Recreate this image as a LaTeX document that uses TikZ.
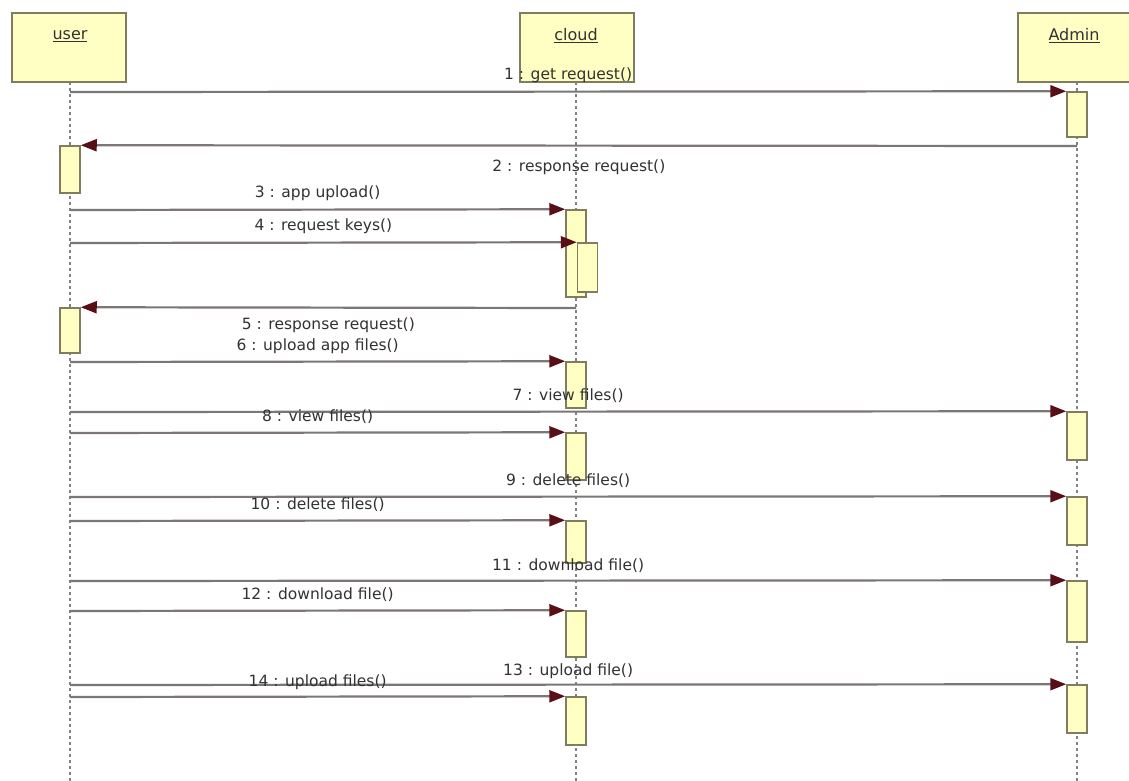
\documentclass[tikz,border=0pt]{standalone}
\usepackage{fontspec}
\setmainfont{DejaVu Sans}
\usetikzlibrary{arrows.meta}
\definecolor{msgc}{RGB}{125,118,118}
\definecolor{tipc}{RGB}{88,16,22}
\definecolor{actf}{RGB}{255,255,196}
\definecolor{actd}{RGB}{128,124,96}
\definecolor{lifec}{RGB}{130,130,130}
\definecolor{txtc}{RGB}{50,50,50}
\begin{document}
\begin{tikzpicture}[x=1pt,y=-1pt,
  head/.style={draw=actd, fill=actf, line width=2pt, minimum height=69pt, inner sep=0pt},
  act/.style={draw=actd, fill=actf, line width=1.5pt, minimum width=20pt, inner sep=0pt},
  life/.style={draw=lifec, line width=1.8pt, dash pattern=on 3pt off 3pt},
  msg/.style={draw=msgc, line width=2.2pt, -{Triangle[length=16pt,width=12pt,color=tipc]}},
  lbl/.style={font=\fontsize{15.5}{18}\selectfont, text=txtc, inner sep=0pt},
  hd/.style={font=\fontsize{16}{18}\selectfont, text=txtc, inner sep=0pt}]

\clip (0,0) rectangle (1129,781);
\fill[white] (0,0) rectangle (1129,781);

% headers
\node[head, minimum width=114pt] (user) at (69,47.5) {};
\node[head, minimum width=114pt] (cloud) at (577,47.5) {};
\node[head, minimum width=116pt] (admin) at (1076,47.5) {};
\node[hd] (usert) at (70,36) {\underline{user}};
\node[hd] (cloudt) at (576,36) {\underline{cloud}};
\node[hd] (admint) at (1074,36) {\underline{Admin}};

% lifelines
\coordinate (uend) at (70,790);
\coordinate (cend) at (576,790);
\coordinate (aend) at (1077,790);
\draw[life] (70,82) -- (uend);
\draw[life] (576,82) -- (cend);
\draw[life] (1077,82) -- (aend);

% activations
\node[act, minimum height=45pt] (A1) at (1077,114.5) {};
\node[act, minimum height=47pt] (U2) at (70,169.5) {};
\node[act, minimum height=87pt] (C3) at (576,253.5) {};
\node[act, minimum height=49pt] (C4) at (587.5,267.5) {};
\node[act, minimum height=45pt] (U5) at (70,330.5) {};
\node[act, minimum height=46pt] (C6) at (576,385) {};
\node[act, minimum height=48pt] (A7) at (1077,436) {};
\node[act, minimum height=47pt] (C8) at (576,456.5) {};
\node[act, minimum height=48pt] (A9) at (1077,521) {};
\node[act, minimum height=42pt] (C10) at (576,542) {};
\node[act, minimum height=61pt] (A11) at (1077,611.5) {};
\node[act, minimum height=46pt] (C12) at (576,634) {};
\node[act, minimum height=48pt] (A13) at (1077,709) {};
\node[act, minimum height=48pt] (C14) at (576,721) {};

% message start points
\coordinate (m1) at (70,92);
\coordinate (m2) at (1077,146);
\coordinate (m3) at (70,210);
\coordinate (m4) at (70,243);
\coordinate (m5) at (576,308);
\coordinate (m6) at (70,362);
\coordinate (m7) at (70,412);
\coordinate (m8) at (70,433);
\coordinate (m9) at (70,497);
\coordinate (m10) at (70,521);
\coordinate (m11) at (70,581);
\coordinate (m12) at (70,611);
\coordinate (m13) at (70,685);
\coordinate (m14) at (70,697);

% messages
\draw[msg] (m1) -- (A1.north west) node[lbl, midway, yshift=16pt] {1 : get request()};
\draw[msg] (m2) -- (U2.north east) node[lbl, midway, yshift=-22pt] {2 : response request()};
\draw[msg] (m3) -- (C3.north west) node[lbl, midway, yshift=16pt] {3 : app upload()};
\draw[msg] (m4) -- (C4.north west) node[lbl, midway, yshift=16pt] {4 : request keys()};
\draw[msg] (m5) -- (U5.north east) node[lbl, midway, yshift=-18pt] {5 : response request()};
\draw[msg] (m6) -- (C6.north west) node[lbl, midway, yshift=15pt] {6 : upload app files()};
\draw[msg] (m7) -- (A7.north west) node[lbl, midway, yshift=16pt] {7 : view files()};
\draw[msg] (m8) -- (C8.north west) node[lbl, midway, yshift=16pt] {8 : view files()};
\draw[msg] (m9) -- (A9.north west) node[lbl, midway, yshift=16pt] {9 : delete files()};
\draw[msg] (m10) -- (C10.north west) node[lbl, midway, yshift=16pt] {10 : delete files()};
\draw[msg] (m11) -- (A11.north west) node[lbl, midway, yshift=15pt] {11 : download file()};
\draw[msg] (m12) -- (C12.north west) node[lbl, midway, yshift=16pt] {12 : download file()};
\draw[msg] (m13) -- (A13.north west) node[lbl, midway, yshift=13pt] {13 : upload file()};
\draw[msg] (m14) -- (C14.north west) node[lbl, midway, yshift=14pt] {14 : upload files()};
\end{tikzpicture}
\end{document}
